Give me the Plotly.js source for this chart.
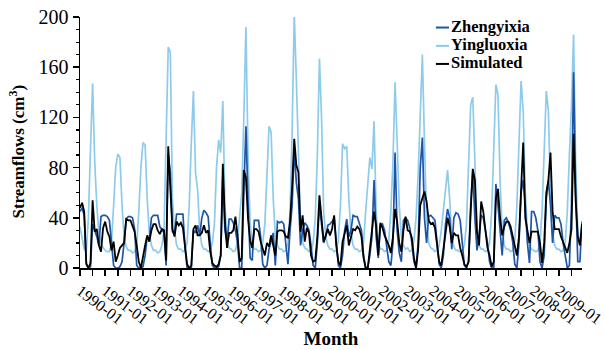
<!DOCTYPE html>
<html>
<head>
<meta charset="utf-8">
<script src="https://cdn.plot.ly/plotly-3.0.1.min.js"></script>
<style>html,body{margin:0;padding:0;background:#fff;}#chart{width:605px;height:350px;}</style>
</head>
<body>
<div id="chart"></div>
<script>
// ---- data ----
const years = [1990,1991,1992,1993,1994,1995,1996,1997,1998,1999,2000,2001,2002,2003,2004,2005,2006,2007,2008,2009];
const monthNums = ["01","02","03","04","05","06","07","08","09","10","11","12"];
const tickLabels = ["1990-01","1991-01","1992-01","1993-01","1994-01","1995-01","1996-01","1997-01","1998-01","1999-01",
                    "2000-01","2001-01","2002-01","2003-01","2004-01","2005-01","2006-01","2007-01","2008-01","2009-01"];
const seriesNames = ["Zhengyixia", "Yingluoxia", "Simulated"];
const xTitle = "Month";
const yTitle = "Streamflows (cm<sup>3</sup>)";

const zhengyixia = [
  45,48,42,4,0,1,35,30,25,18,41,42,
  42,41,38,20,2,0,0,1,5,20,39,41,
  41,40,31,2,0,0,1,10,25,22,40,42,
  42,42,33,30,28,2,91,76,29,27,43,43,
  43,43,16,0,0,0,30,28,34,26,40,46,
  44,41,20,2,0,0,1,10,72,30,20,39,
  39,36,30,20,0,0,60,113,53,8,6,38,
  38,38,25,3,0,2,15,22,28,2,37,36,
  37,35,20,3,30,50,95,68,55,18,30,36,
  34,30,18,2,0,20,50,35,20,25,34,35,
  37,40,20,2,0,10,30,39,25,30,42,41,
  41,36,30,10,0,0,10,25,70,25,8,34,
  35,30,15,5,2,20,92,30,12,5,38,40,
  38,32,20,5,0,20,80,104,40,20,41,42,
  40,38,20,3,0,10,35,47,40,15,40,44,
  43,38,20,2,0,5,50,77,40,14,25,42,
  40,31,20,5,0,0,67,50,30,10,38,40,
  36,30,21,3,0,20,60,70,50,20,4,45,
  45,40,30,5,0,10,55,70,50,20,42,40,
  40,35,20,10,0,2,50,156,60,5,5,37
];
const yingluoxia = [
  33,25,15,14,40,95,147,85,50,28,20,16,
  14,13,13,20,50,80,91,88,50,25,17,14,
  14,12,13,18,45,80,100,98,55,28,18,14,
  14,12,13,18,30,105,176,172,55,30,18,15,
  15,13,14,20,50,100,141,76,62,30,18,15,
  15,13,14,20,35,80,102,92,133,50,22,16,
  15,13,14,22,45,60,120,192,90,35,20,15,
  15,13,14,20,35,75,113,108,55,25,18,15,
  15,13,14,20,45,110,203,150,85,35,20,16,
  15,13,14,20,40,90,167,120,45,25,18,15,
  15,13,14,22,50,99,95,97,55,28,18,15,
  15,13,14,20,45,70,88,79,117,45,20,15,
  15,13,14,22,45,85,148,100,50,25,18,15,
  16,13,14,22,40,75,120,170,100,40,20,16,
  15,13,14,18,30,45,65,78,55,25,17,14,
  14,13,14,18,35,80,130,136,90,35,18,15,
  15,13,14,20,45,90,146,138,70,30,18,15,
  15,13,14,22,50,100,149,125,60,28,18,15,
  14,13,14,20,45,90,141,125,60,28,18,15,
  15,13,14,20,45,90,130,186,80,30,18,20
];
const simulated = [
  48,52,45,3,0,4,54,29,31,18,13,32,
  37,29,25,14,21,5,10,16,18,20,39,38,
  38,33,29,18,5,0,10,18,26,21,30,35,
  35,30,27,31,30,6,97,68,31,25,37,34,
  36,32,16,3,0,2,31,34,26,26,28,34,
  28,30,13,4,2,1,3,10,83,37,16,28,
  28,30,41,26,5,8,78,72,39,22,16,31,
  31,29,21,16,10,20,17,26,18,10,29,30,
  30,29,25,24,37,65,103,82,76,29,42,21,
  32,28,10,5,6,25,58,39,21,26,31,26,
  31,42,18,5,2,21,28,34,18,25,31,30,
  33,31,25,8,0,0,15,25,45,34,10,36,
  32,26,22,18,12,25,47,37,20,13,30,41,
  30,29,24,8,0,15,50,55,61,53,38,35,
  36,32,18,5,2,15,30,40,33,20,28,26,
  26,16,10,3,1,5,45,79,70,29,18,53,
  45,31,16,10,1,5,55,63,40,26,33,37,
  37,33,26,18,10,25,60,100,40,30,20,29,
  29,29,29,20,4,20,60,70,92,45,31,31,
  31,25,21,16,12,20,31,107,53,25,18,35
];

// ---- build ----
const months = [];
years.forEach(y => monthNums.forEach(m => months.push(y + "-" + m)));
const tickVals = months.filter((_, i) => i % 6 === 0);
const tickText = tickVals.map(v => tickLabels.includes(v) ? v : "");

const colors = {Zhengyixia: "#1f55a6", Yingluoxia: "#8ecbea", Simulated: "#000000"};
const seriesData = {Zhengyixia: zhengyixia, Yingluoxia: yingluoxia, Simulated: simulated};
const drawOrder = ["Yingluoxia", "Zhengyixia", "Simulated"];

const traces = drawOrder.map(name => ({
  type: "scatter", mode: "lines", name: name,
  x: months, y: seriesData[name],
  line: {color: colors[name], width: name === "Simulated" ? 1.8 : 1.7},
  showlegend: false
}));

const FONT = "Liberation Serif";

// custom legend (short line samples as in the reference)
const legY = [0.958, 0.885, 0.813];
const shapes = seriesNames.map((n, i) => ({
  type: "line", xref: "paper", yref: "paper",
  x0: 0.709, x1: 0.735, y0: legY[i], y1: legY[i],
  line: {color: colors[n], width: 2}
}));
const annotations = seriesNames.map((n, i) => ({
  xref: "paper", yref: "paper", x: 0.736, y: legY[i] + 0.004,
  xanchor: "left", yanchor: "middle", showarrow: false,
  text: "<b>" + n + "</b>", font: {size: 16.5, family: FONT, color: "#000"}
}));
// y-axis title placed as in the reference (slightly below the axis centre)
annotations.push({
  xref: "paper", yref: "paper", x: -0.126, y: 0.463,
  xanchor: "center", yanchor: "middle", textangle: -90, showarrow: false,
  text: "<b>" + yTitle + "</b>", font: {size: 17, family: FONT, color: "#000"}
});

const layout = {
  width: 605, height: 350,
  margin: {l: 80, r: 23, t: 17, b: 82},
  paper_bgcolor: "#fff", plot_bgcolor: "#fff",
  font: {family: FONT, color: "#000"},
  showlegend: false,
  xaxis: {
    type: "category", range: [0, 239],
    tickmode: "array", tickvals: tickVals, ticktext: tickText,
    tickangle: 37, ticks: "outside", ticklen: 6, tickwidth: 1.5, tickcolor: "#000",
    showline: true, linecolor: "#000", linewidth: 1.5,
    showgrid: false, zeroline: false,
    tickfont: {size: 16, family: FONT, color: "#000"},
    title: {text: "<b>" + xTitle + "</b>", font: {size: 19, family: FONT, color: "#000"}, standoff: 2}
  },
  yaxis: {
    range: [0, 200], dtick: 40, tick0: 0,
    ticks: "outside", ticklen: 6, tickwidth: 1.5, tickcolor: "#000",
    minor: {dtick: 10, ticks: "outside", ticklen: 3, tickwidth: 1.2, tickcolor: "#000", showgrid: false},
    showline: true, linecolor: "#000", linewidth: 1.5,
    showgrid: false, zeroline: false,
    tickfont: {size: 20, family: FONT, color: "#000"}
  },
  shapes: shapes,
  annotations: annotations
};

Plotly.newPlot("chart", traces, layout, {staticPlot: true, displayModeBar: false});
</script>
</body>
</html>
